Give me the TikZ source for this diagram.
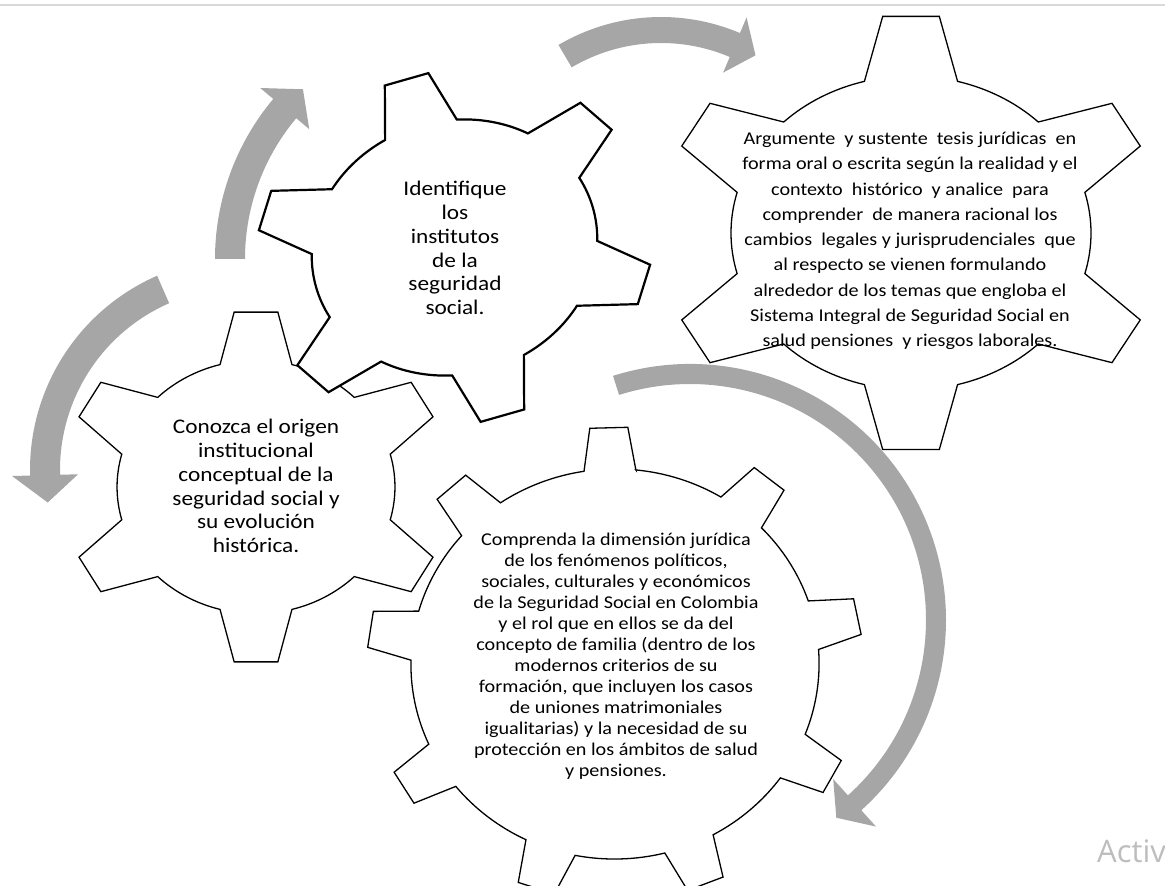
\documentclass[tikz,border=0pt]{standalone}
\usepackage{fontspec}
\setmainfont{Carlito}[FakeStretch=1.12]
\newfontfamily\markfont{Open Sans}
\definecolor{arrowgrey}{HTML}{A6A6A6}
\definecolor{rulegrey}{HTML}{D9D9D9}
\definecolor{markgrey}{HTML}{BDBDBD}

\tikzset{
gearline/.style={draw=black, fill=white, line width=1.3pt}, % outline of a gear
heavygear/.style={gearline, line width=2.2pt}, % the gear drawn with a heavier pen
arrowbody/.style={fill=arrowgrey}, % grey bent arrows
bigtext/.style={align=center, inner sep=0pt, font=\fontsize{20.8}{23.8}\selectfont}, % short captions
smalltext/.style={align=center, inner sep=0pt, font=\fontsize{18}{25.3}\selectfont}, % long caption, top right
longtext/.style={align=center, inner sep=0pt, font=\fontsize{18}{21}\selectfont}, % long caption, bottom
}

% #1 centre, #2 turn, #3 x radius, #4 y radius, #5 teeth, #6 tip half angle, #7 root half angle, #8 root radius, #9 style
\newcommand{\gear}[9]{%
  \begin{scope}[shift={#1}, rotate=#2, xscale=#3, yscale=#4]
    \path[#9] ({90-#7}:#8)
      \foreach \k in {1,...,#5} {
        -- ({90+(\k-1)*360/#5-#6}:1) -- ({90+(\k-1)*360/#5+#6}:1)
        -- ({90+(\k-1)*360/#5+#7}:#8)
        arc[start angle={90+(\k-1)*360/#5+#7}, end angle={90+\k*360/#5-#7}, radius=#8]
      } -- cycle;
  \end{scope}}

% #1 centre, #2 radius, #3 half width, #4 tail angle, #5 head angle, #6 tip angle, #7 head half width
\newcommand{\bentarrow}[7]{%
  \begin{scope}[shift={#1}]
    \path[arrowbody] ({#4}:{#2+#3}) arc[start angle=#4, end angle=#5, radius={#2+#3}]
      -- ({#5}:{#2+#7}) -- ({#6}:{#2}) -- ({#5}:{#2-#7}) -- ({#5}:{#2-#3})
      arc[start angle=#5, end angle=#4, radius={#2-#3}] -- cycle;
  \end{scope}}

\begin{document}
\begin{tikzpicture}[x=1pt, y=1pt]
\useasboundingbox (0,0) rectangle (1165,886);

\coordinate (ruleL) at (0,881);
\coordinate (ruleR) at (1165,881);
\draw[rulegrey, line width=2pt] (ruleL) -- (ruleR);

\coordinate (g1) at (256,399);
\coordinate (g2) at (454.5,638.5);
\coordinate (g3) at (911,653);
\coordinate (g4) at (615,222);

\gear{(g1)}{0}{193}{176}{6}{6.5}{15}{0.72}{gearline}
\gear{(g4)}{1.5}{248}{237}{9}{4.4}{7.3}{0.823}{gearline}
\gear{(g3)}{0}{250}{218}{6}{6.5}{15}{0.72}{gearline}
\gear{(g2)}{15.9}{200}{176}{6}{6.5}{15}{0.72}{heavygear}

\bentarrow{(242,416)}{197}{15}{113.6}{181.5}{189.5}{33}
\bentarrow{(464,627)}{234}{15}{180}{140}{133.5}{32}
\bentarrow{(661,667)}{189}{13}{120.5}{67}{60}{30}
\bentarrow{(690,266)}{246}{10}{107.5}{-48}{-53.5}{32}

\node[bigtext] (origen) at (256,400) {Conozca el origen\\institucional\\conceptual de la\\seguridad social y\\su evolución\\histórica.};
\node[bigtext] (institutos) at (455,638) {Identifique\\los\\institutos\\de la\\seguridad\\social.};
\node[smalltext] (argumente) at (910,645) {Argumente\ \ y sustente\ \ tesis jurídicas\ \ en\\forma oral o escrita según la realidad y el\\contexto\ \ histórico\ \ y analice\ \ para\\comprender\ \ de manera racional los\\cambios\ \ legales y jurisprudenciales\ \ que\\al respecto se vienen formulando\\alrededor de los temas que engloba el\\Sistema Integral de Seguridad Social en\\salud pensiones\ \ y riesgos laborales.};
\node[longtext] (comprenda) at (616,230) {Comprenda la dimensión jurídica\\de los fenómenos políticos,\\sociales, culturales y económicos\\de la Seguridad Social en Colombia\\y el rol que en ellos se da del\\concepto de familia (dentro de los\\modernos criterios de su\\formación, que incluyen los casos\\de uniones matrimoniales\\igualitarias) y la necesidad de su\\protección en los ámbitos de salud\\y pensiones.};
\node[anchor=base west, inner sep=0pt, text=markgrey, font=\markfont\fontsize{31}{36}\selectfont] (activ) at (1097,23) {Activ};
\end{tikzpicture}
\end{document}
